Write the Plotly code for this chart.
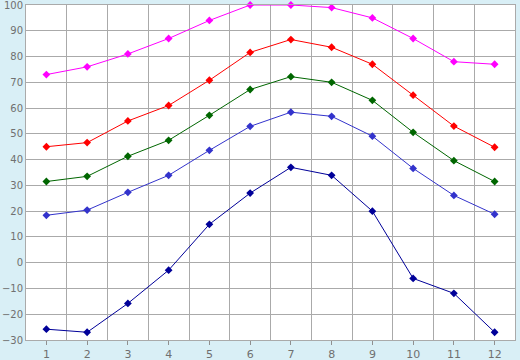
import plotly.graph_objects as go

months = [1, 2, 3, 4, 5, 6, 7, 8, 9, 10, 11, 12]
series_magenta = [73, 76, 81, 87, 94, 100, 100, 99, 95, 87, 78, 77]
series_red = [45, 46.6, 55, 61, 70.8, 81.6, 86.6, 83.6, 77, 65, 53, 44.8]
series_green = [31.5, 33.5, 41.3, 47.5, 57.2, 67.2, 72.2, 70, 63, 50.6, 39.6, 31.5]
series_blue = [18.4, 20.4, 27.3, 33.9, 43.6, 52.9, 58.4, 56.8, 49.1, 36.6, 26.1, 18.8]
series_navy = [-25.8, -27, -15.8, -2.9, 14.9, 27, 37, 33.9, 20, -6.1, -11.9, -27]
y_ticks = list(range(-30, 101, 10))

series = [
    (series_magenta, "#ff00ff"),
    (series_red, "#ff0000"),
    (series_green, "#006600"),
    (series_blue, "#3333cc"),
    (series_navy, "#000099"),
]

fig = go.Figure()
for vals, col in series:
    fig.add_trace(go.Scatter(
        x=months, y=vals, mode="lines+markers",
        line=dict(color=col, width=1),
        marker=dict(symbol="diamond", size=6, color=col),
        showlegend=False, cliponaxis=False,
    ))

fig.update_layout(
    width=520, height=360,
    margin=dict(l=26, r=5, t=5, b=20, autoexpand=False),
    paper_bgcolor="#d9eff6",
    plot_bgcolor="#ffffff",
    font=dict(family="DejaVu Sans", size=10, color="#707070"),
)
fig.update_xaxes(
    range=[0.5, 12.5], tickvals=months, ticktext=[str(m) for m in months],
    showgrid=False, ticks="outside", ticklen=4, tickcolor="#909090",
    showline=True, linecolor="#aaaaaa", linewidth=1, mirror=True,
    zeroline=False, automargin=False, ticklabeloverflow="allow",
    tickfont=dict(size=11),
    minor=dict(tickvals=[m + 0.5 for m in months[:-1]], showgrid=True,
               gridcolor="#aaaaaa", gridwidth=1, ticks=""),
)
fig.update_yaxes(
    range=[-30, 100], tickvals=y_ticks,
    showgrid=True, gridcolor="#aaaaaa", gridwidth=1,
    showline=True, linecolor="#aaaaaa", linewidth=1, mirror=True,
    zeroline=False, ticks="", ticklabelstandoff=0,
    automargin=False, ticklabeloverflow="allow",
)
fig.write_html("out.html")
